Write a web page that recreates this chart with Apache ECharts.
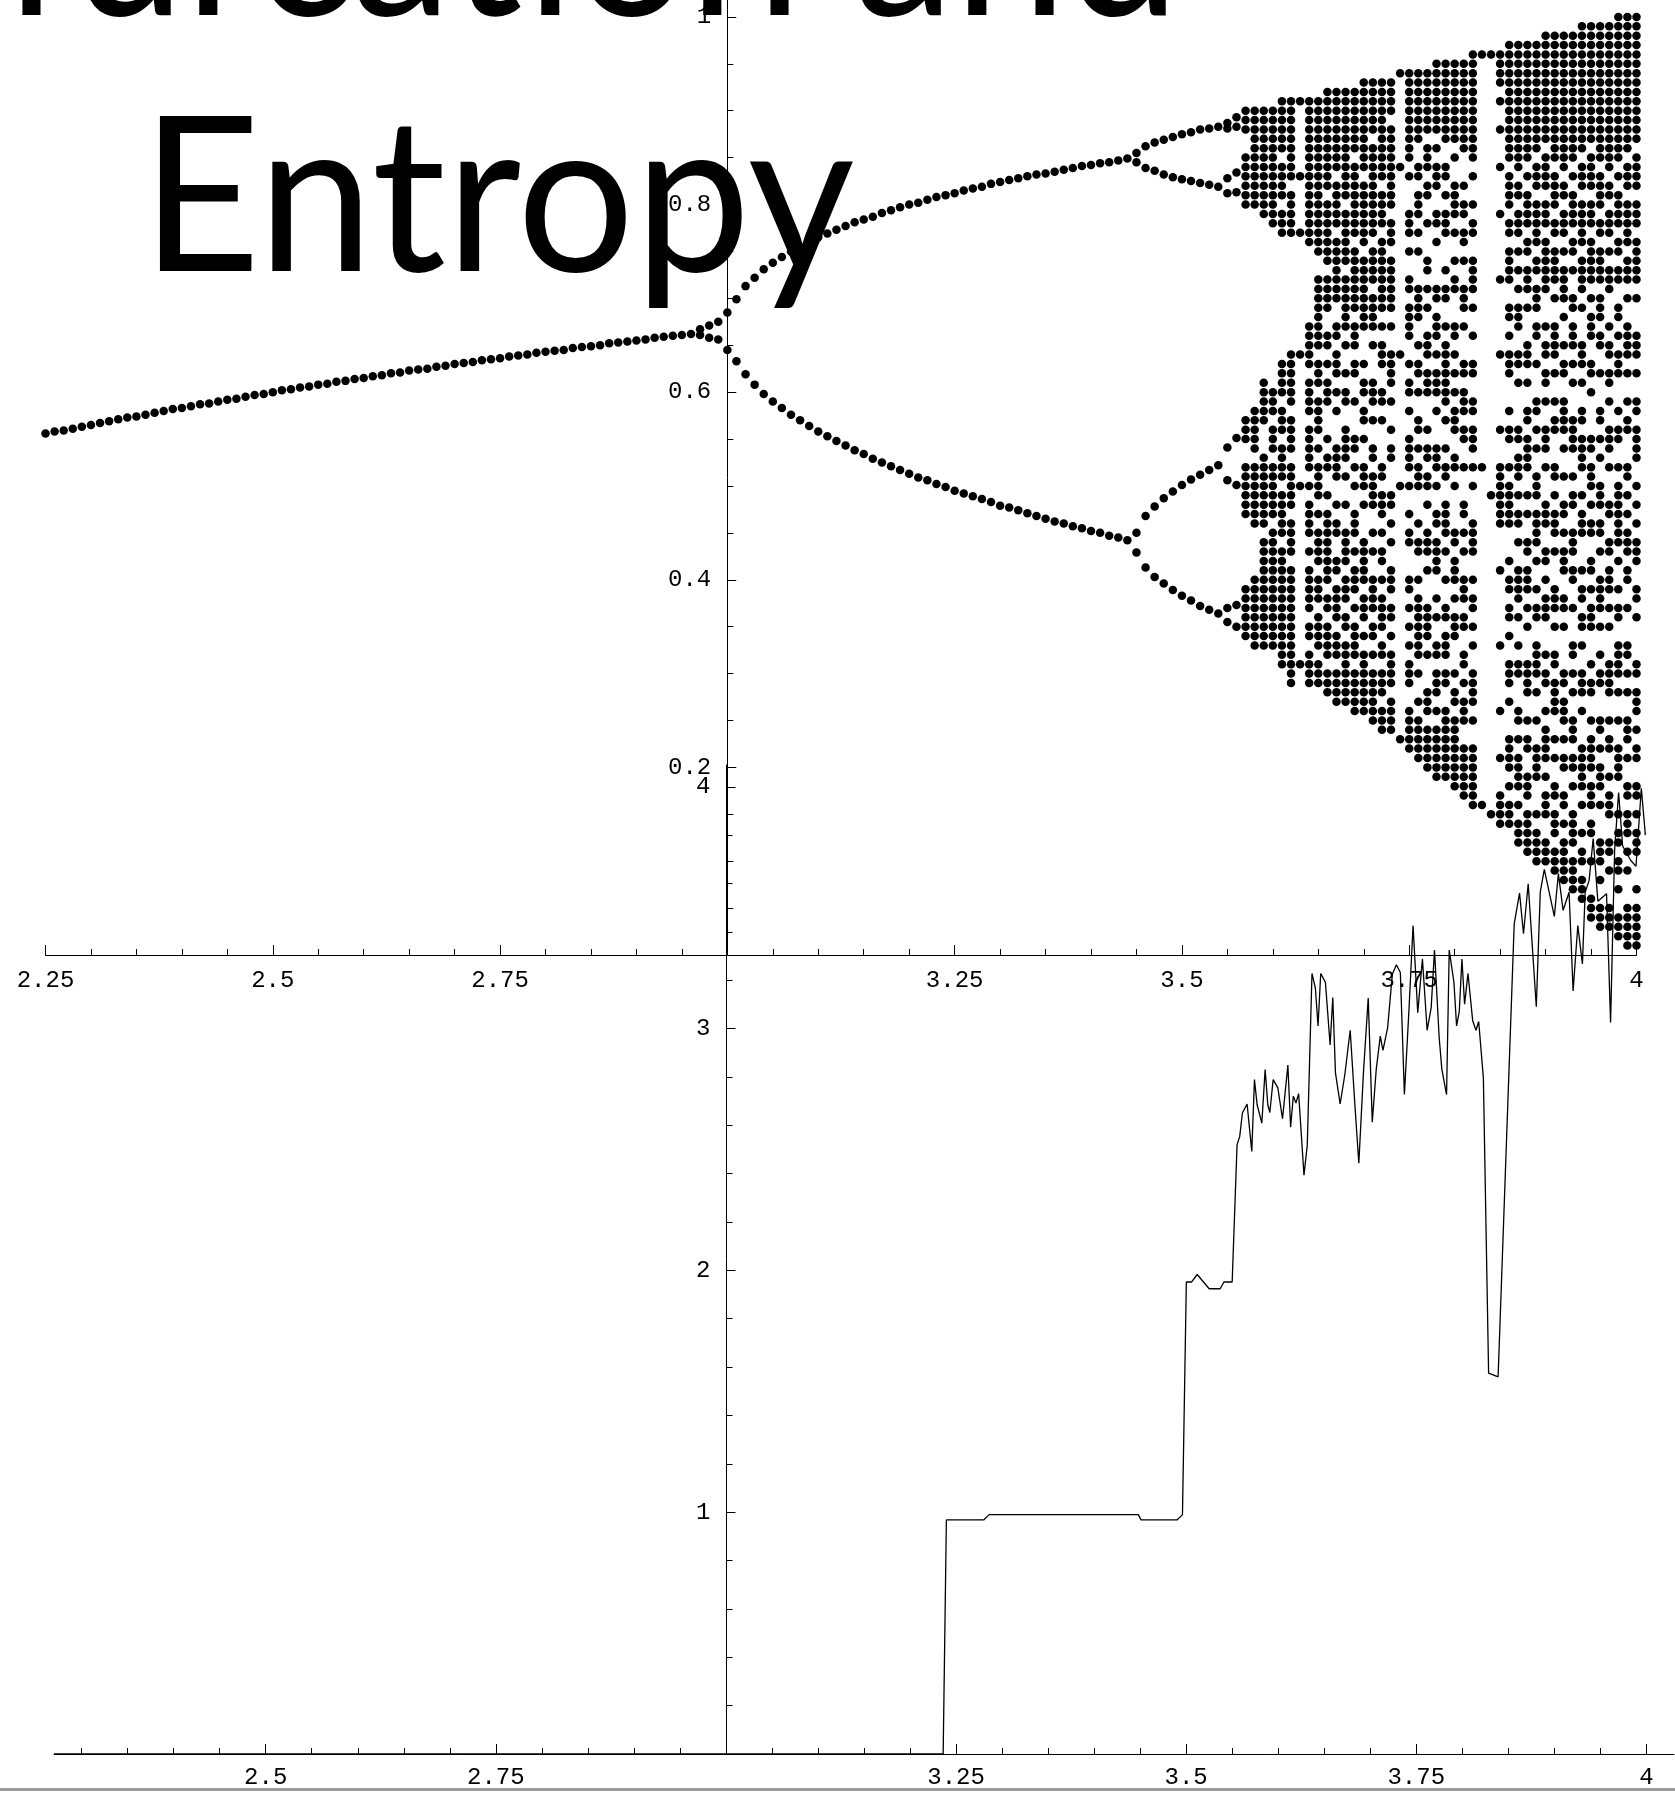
<!DOCTYPE html>
<html>
<head>
<meta charset="utf-8">
<script src="https://cdn.jsdelivr.net/npm/echarts@6/dist/echarts.min.js"></script>
<style>
  html, body { margin: 0; padding: 0; background: #fff; }
  #chart { width: 1675px; height: 1793px; }
</style>
</head>
<body>
<div id="chart"></div>
<script>
// ---- bifurcation diagram: fixed point branch (one dot per r) ----
const fixedR = [2.25,2.26,2.27,2.28,2.29,2.30,2.31,2.32,2.33,2.34,2.35,2.36,2.37,2.38,2.39,2.40,2.41,2.42,2.43,2.44,2.45,2.46,2.47,2.48,2.49,2.50,2.51,2.52,2.53,2.54,2.55,2.56,2.57,2.58,2.59,2.60,2.61,2.62,2.63,2.64,2.65,2.66,2.67,2.68,2.69,2.70,2.71,2.72,2.73,2.74,2.75,2.76,2.77,2.78,2.79,2.80,2.81,2.82,2.83,2.84,2.85,2.86,2.87,2.88,2.89,2.90,2.91,2.92,2.93,2.94,2.95]
const fixedX = [.556,.558,.559,.561,.563,.565,.567,.569,.571,.573,.574,.576,.578,.580,.582,.583,.585,.587,.588,.590,.592,.593,.595,.597,.598,.600,.602,.603,.605,.606,.608,.609,.611,.612,.614,.615,.617,.618,.620,.621,.623,.624,.625,.627,.628,.630,.631,.632,.634,.635,.636,.638,.639,.640,.642,.643,.644,.645,.647,.648,.649,.650,.652,.653,.654,.655,.656,.658,.659,.660,.661]

// ---- period doubling branches (several dots per r) ----
const branchR = [2.96,2.97,2.98,2.99,3.00,3.01,3.02,3.03,3.04,3.05,3.06,3.07,3.08,3.09,3.10,3.11,3.12,3.13,3.14,3.15,3.16,3.17,3.18,3.19,3.20,3.21,3.22,3.23,3.24,3.25,3.26,3.27,3.28,3.29,3.30,3.31,3.32,3.33,3.34,3.35,3.36,3.37,3.38,3.39,3.40,3.41,3.42,3.43,3.44,3.45,3.46,3.47,3.48,3.49,3.50,3.51,3.52,3.53,3.54,3.55,3.56]
const branchX = [
  [.662],[.661,.667],[.658,.671],[.656,.675],[.645,.685],
  [.699,.633],[.713,.619],[.722,.608],[.731,.598],[.738,.590],[.744,.583],[.750,.576],[.755,.570],[.760,.564],[.765,.558],
  [.769,.553],[.773,.548],[.777,.543],[.781,.538],[.784,.534],[.787,.529],[.791,.525],[.794,.521],[.797,.517],[.800,.513],
  [.802,.509],[.805,.506],[.808,.502],[.810,.499],[.812,.495],[.815,.492],[.817,.489],[.819,.486],[.822,.483],[.824,.479],
  [.826,.477],[.828,.474],[.830,.471],[.832,.468],[.833,.465],[.835,.462],[.837,.460],[.839,.457],[.841,.455],[.842,.452],
  [.844,.450],[.845,.447],[.847,.445],[.849,.442],
  [.855,.845,.450,.429],
  [.862,.839,.468,.413],[.866,.836,.478,.403],[.869,.832,.487,.396],[.872,.829,.494,.389],[.875,.827,.501,.383],
  [.877,.825,.507,.378],[.880,.823,.512,.372],[.881,.821,.517,.368],[.883,.819,.522,.364],
  [.887,.881,.828,.812,.541,.506,.370,.355],
  [.893,.883,.834,.813,.551,.501,.373,.350]
]

// ---- banded / windowed columns: occupied cells in hundredths (a-b = run of cells) ----
const bandR = [3.57,3.58,3.59,3.60,3.61,3.62,3.63,3.64,3.65,3.74,3.83,3.84,3.85]
const bandCells = [
  "90-88,85-80,57-55,52-47,39-34",
  "90-86,85-80,58-54,52-46,40-33",
  "90-79,61-57,53-46,44-33",
  "90-85,84-78,60-58,56-54,52-47,45-40,39-33",
  "91-86,84-81,79-77,63-60,58-56,54-51,49-45,43-38,37-31",
  "91-87,86-83,81-77,64-62,61-59,57-54,52-48,46-43,41-35,34-29",
  "91,83,77,64,50,31",
  "91-76,67-63,61-58,56-52,50,48-45,43,41-37,35-34,32-29",
  "91-75,72-70,69-65,63-61,59-56,54,52-49,47,45-42,40-38,36-33,31-29",
  "94,84,64,50,23",
  "96,52,16",
  "96,49,15",
  "96-93,91,88,84,79,72,64,56,52-46,41,33,26,21,17-14"
]

// ---- chaotic columns: '#' = dot, read downward from the top cell (hundredths) ----
const chaosR = [3.66,3.67,3.68,3.69,3.70,3.71,3.72,3.73,
  3.75,3.76,3.77,3.78,3.79,3.80,3.81,3.82,
  3.86,3.87,3.88,3.89,3.90,3.91,3.92,3.93,3.94,3.95,3.96,3.97,3.98,3.99,4.00]
const chaosTop = [92,92,92,92,93,93,93,93, 94,94,94,95,95,95,95,96, 97,97,97,97,98,98,98,98,99,99,99,99,100,100,100]
const chaosBits = [
  "###########.#######.####..##.#.###...#.##..#.#####" + "###.##.####." + "###",
  "#########.#####.#######..##.###.#.#...####..#.##.." + "##.####.###.#" + "###",
  "############.######.######.#..#.##..####.#..#..###" + "#.###.##.####" + "###",
  "#######.########.#######.###.##..#...##.#.#..###.#." + "###.#.####.##" + "###",
  "##########.#######.########...#.##.##.#..###.#...###" + "##.###.#.####" + "###",
  "######.##########.####.####.#...###.#..##.####..#.#.." + "####.##.#.###" + "###",
  "###########.####.########.#.###..##.#....##.###.#.##." + "#.####.##.###." + "###",
  "####.#########.###.######.#..####.#..#.##...##.#.#.." + "###.##.#.####.#" + "###",
  "##########.#...###.#..##.####..#.##.#..####.#..#.##...##.#.#.#.###..#####",
  "########..##.###.#.#...####..#.##.#..##.#.###...#.##..#.#######.#..#.#####",
  "#######.###.##..#...##.#.#..###.###...#.##.##.#..###.#...####.#...###.#####",
  "########.#.###..##.#....##.###.#.###.#...###.#..##.####..#.#..##.###.#.######",
  "#########..##.#.###...#.##..#.#######.#..#.##..####.#..#..##.###.##..########",
  "#########.#..####.#..#.##...##.#.#.#.###..##.#....##.###.#.###...#.##.########",
  "##########...#.##.##.#..###.#...##.###.##..#...##.#.#..###.##..##.#.###..######",
  "############.#..#.##..####.#..#..##..##.###.#.#...####..#.##.#.#..####.#..#######",
  "#############.####.##.####..##.#.###...#.##..#.#####...#.##.##.#..###.#...####.#.###",
  "##############.##.###.#.#.#.###..##.#....##.###.#.##.#..####.#..#.##...##.#.####.#.###",
  "#############.#.####.##.###.#...###.#..##.####..#.#..##.###.#.#...####..#.##..###.#####",
  "############.###.#####.##.###.##..#...##.#.#..###.####.#..#.##..####.#..#..####...#.####",
  "############.####.###.######...#.##.##.#..###.#...###..##.#.###...#.##..#.####.#.###..###",
  "##############.####.##.####.#..####.#..#.##...##.#.###.#...###.#..##.####..#.#..##.###.###",
  "###############.##.###.#.####.#..#.##..####.#..#..##.#.###..##.#....##.###.#.##..##.#.#####",
  "##############.#.####.##.#..##.###.#.#...####..#.##..###.##..#...##.#.#..###.##.#..####.####",
  "##############.###.#####.####.#...###.#..##.####..#.###...#.##.##.#..###.#...#####.#..#.##.###",
  "#############.####.###.#####.#.###..##.#....##.###.#.##..##.#.###...#.##..#.####.###.##..#...###",
  "###############.####.##.####.###.##..#...##.#.#..###.##.#..####.#..#.##...##.#.###.#...###.#..###",
  "################.##.###.#.###...#.##.##.#..###.#...##..##.###.#.#...####..#.##..#.###..##.#...###",
  "################.#.####.##.##..##.#.###...#.##..#.#######.#..#.##..####.#..#..####...#.##.##.#..###",
  "###############.###.#####.###.#..####.#..#.##...##.#.#.###.##..#...##.#.#..###.#..##.###.#.#...#####",
  "##############.####.###.#####.#...###.#..##.####..#.#.#.###..##.#....##.###.#.##..##.#.###...#.#####"
]

// ---- entropy curve (lower plot) ----
const entropyR = [2.27,3.236,3.2395,3.280,3.286,3.448,3.451,3.490,3.496,3.5002,3.506,3.512,3.525,3.537,3.541,3.550,
  3.5553,3.5582,3.5611,3.5662,3.5713,3.5742,3.5771,3.5822,3.5858,3.5887,3.5909,3.5945,3.5996,3.6047,3.6105,3.6135,3.6164,3.6193,3.6222,
  3.6280,3.6316,3.6367,3.6404,3.6433,3.6462,3.6513,3.6564,3.6593,3.6622,3.6673,3.6724,3.6782,3.6833,3.6876,3.6927,3.6978,3.7022,
  3.7065,3.7109,3.7138,3.7189,3.7240,3.7284,3.7327,3.7371,3.7422,3.7465,3.7516,3.7567,3.7618,3.7662,3.7698,3.7749,3.7778,3.7829,
  3.7858,3.7909,3.7938,3.7967,3.7996,3.8025,3.8062,3.8113,3.8149,3.8178,3.8229,3.8286,3.8389,
  3.8564,3.8622,3.8665,3.8716,3.8804,3.8847,3.8891,3.9000,3.9044,3.9095,3.9160,3.9204,3.9255,3.9305,3.9335,3.9378,3.9422,3.9473,
  3.9567,3.9611,3.9655,3.9698,3.9742,3.9829,3.9887,3.9945,3.9989]
const entropyH = [0,0,0.968,0.968,0.990,0.990,0.968,0.968,0.990,1.952,1.952,1.983,1.924,1.924,1.952,1.952,
  2.519,2.554,2.651,2.688,2.492,2.789,2.685,2.609,2.831,2.685,2.653,2.789,2.755,2.627,2.849,2.592,2.720,2.692,2.731,
  2.394,2.519,3.228,3.167,3.011,3.228,3.191,2.932,3.128,2.817,2.688,2.810,2.993,2.685,2.443,2.824,3.126,2.613,
  2.831,2.969,2.910,3.004,3.225,3.264,3.232,2.727,3.087,3.426,3.066,3.288,2.993,3.087,3.325,2.962,2.831,2.727,
  3.325,3.191,3.011,3.070,3.288,3.101,3.228,3.032,2.993,3.029,2.796,1.575,1.560,
  3.433,3.560,3.392,3.599,3.090,3.564,3.658,3.464,3.641,3.489,3.564,3.156,3.426,3.267,3.564,3.613,3.786,3.527,
  3.558,3.025,3.738,3.976,3.755,3.696,3.671,3.994,3.800]

// ---- ticks and labels ----
const rMajorTop = [2.25,2.5,2.75,3,3.25,3.5,3.75,4]
const rMinorTop = [2.3,2.35,2.4,2.45,2.55,2.6,2.65,2.7,2.8,2.85,2.9,2.95,3.05,3.1,3.15,3.2,3.3,3.35,3.4,3.45,3.55,3.6,3.65,3.7,3.8,3.85,3.9,3.95]
const rLabelsTop = [2.25,2.5,2.75,3.25,3.5,3.75,4]
const rMajorBottom = [2.5,2.75,3,3.25,3.5,3.75,4]
const rMinorBottom = [2.3,2.35,2.4,2.45,2.55,2.6,2.65,2.7,2.8,2.85,2.9,2.95,3.05,3.1,3.15,3.2,3.3,3.35,3.4,3.45,3.55,3.6,3.65,3.7,3.8,3.85,3.9,3.95]
const rLabelsBottom = [2.5,2.75,3.25,3.5,3.75,4]
const xMajor = [0.2,0.4,0.6,0.8,1]
const xMinor = [0.05,0.1,0.15,0.25,0.3,0.35,0.45,0.5,0.55,0.65,0.7,0.75,0.85,0.9,0.95]
const hMajor = [1,2,3,4]
const hMinor = [0.2,0.4,0.6,0.8,1.2,1.4,1.6,1.8,2.2,2.4,2.6,2.8,3.2,3.4,3.6,3.8]

// build dot lists
const dots = []
fixedR.forEach((r, i) => dots.push([r, fixedX[i]]))
branchR.forEach((r, i) => branchX[i].forEach(x => dots.push([r, x])))
bandR.forEach((r, i) => {
  bandCells[i].split(',').forEach(tok => {
    const p = tok.split('-').map(Number)
    const hi = p[0], lo = p.length > 1 ? p[1] : p[0]
    for (let c = hi; c >= lo; c--) dots.push([r, c / 100])
  })
})
chaosR.forEach((r, i) => {
  const bits = chaosBits[i]
  for (let k = 0; k < bits.length; k++) {
    const c = chaosTop[i] - k
    if (bits[k] === '#' && c >= 0) dots.push([r, c / 100])
  }
})
const entropyData = entropyR.map((r, i) => [r, entropyH[i]])

const mono = 'Liberation Mono'
const black = '#000'

function majorAxis(grid, min, max, ticks, labels, len, margin, extra) {
  return Object.assign({
    gridIndex: grid, type: 'value', min: min, max: max,
    axisLine: { show: true, onZero: false, lineStyle: { color: black, width: 1 } },
    axisTick: { show: true, inside: true, length: len, customValues: ticks, lineStyle: { color: black, width: 1 } },
    axisLabel: { show: true, customValues: labels, color: black, fontFamily: mono, fontSize: 24, margin: margin,
      formatter: v => String(v) },
    splitLine: { show: false }
  }, extra)
}
function minorAxis(grid, min, max, ticks, len, extra) {
  return Object.assign({
    gridIndex: grid, type: 'value', min: min, max: max,
    axisLine: { show: false, onZero: false },
    axisTick: { show: true, inside: true, length: len, customValues: ticks, lineStyle: { color: black, width: 1 } },
    axisLabel: { show: false },
    splitLine: { show: false }
  }, extra)
}

const chartDom = document.getElementById('chart')
const myChart = echarts.init(chartDom)

const option = {
  animation: false,
  backgroundColor: '#fff',
  grid: [
    { left: 45.5, top: 0, width: 1591, height: 955 },
    { left: 54, top: 765, width: 1620, height: 989 }
  ],
  xAxis: [
    majorAxis(0, 2.25, 4, rMajorTop, rLabelsTop, 10, 14, { position: 'bottom' }),
    minorAxis(0, 2.25, 4, rMinorTop, 6, { position: 'bottom' }),
    majorAxis(1, 2.27, 4.03, rMajorBottom, rLabelsBottom, 10, 12, { position: 'bottom' }),
    minorAxis(1, 2.27, 4.03, rMinorBottom, 6, { position: 'bottom' })
  ],
  yAxis: [
    majorAxis(0, 0, 1.018, xMajor, xMajor, 9, 16, { position: 'left', offset: -681.75 }),
    minorAxis(0, 0, 1.018, xMinor, 6, { position: 'left', offset: -681.75 }),
    majorAxis(1, 0, 4.09, hMajor, hMajor, 9, 16, { position: 'left', offset: -672.5 }),
    minorAxis(1, 0, 4.09, hMinor, 6, { position: 'left', offset: -672.5 })
  ],
  series: [
    {
      type: 'scatter', xAxisIndex: 0, yAxisIndex: 0, data: dots,
      symbol: 'circle', symbolSize: 8.5, itemStyle: { color: black, opacity: 1 }, silent: true
    },
    {
      type: 'line', xAxisIndex: 2, yAxisIndex: 2, data: entropyData,
      showSymbol: false, lineStyle: { color: black, width: 1.3 }, silent: true
    }
  ],
  graphic: [
    {
      type: 'text', x: 1180, y: -54, scaleX: 0.94, z: 100,
      style: { text: 'Bifurcation and', font: '215px Lato', fill: black, textAlign: 'right', textVerticalAlign: 'middle' }
    },
    {
      type: 'text', x: 141, y: 202, scaleX: 0.963, z: 100,
      style: { text: 'Entropy', font: '215px Lato', fill: black, textAlign: 'left', textVerticalAlign: 'middle' }
    },
    {
      type: 'rect', z: 100,
      shape: { x: 0, y: 1788, width: 1675, height: 3 },
      style: { fill: '#9a9a9a' }
    }
  ]
}
myChart.setOption(option)
</script>
</body>
</html>
